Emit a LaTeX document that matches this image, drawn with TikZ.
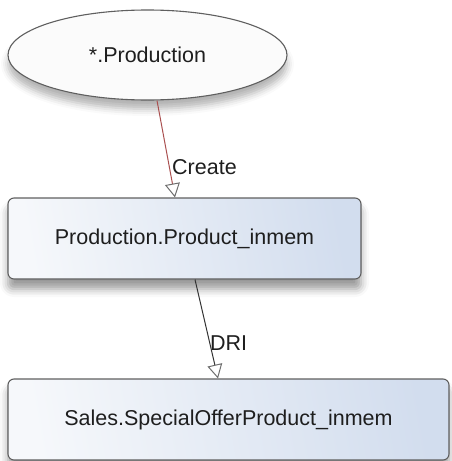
\documentclass[tikz,border=0pt]{standalone}
\usepackage{fontspec}
\setmainfont{Liberation Sans}
\usetikzlibrary{shapes.geometric,arrows.meta,calc,shadows.blur}
\definecolor{edgegray}{RGB}{95,95,95}
\definecolor{boxlight}{RGB}{246,248,251}
\definecolor{boxblue}{RGB}{210,221,238}
\definecolor{ellfill}{RGB}{251,251,251}
\definecolor{createred}{RGB}{170,80,80}
\definecolor{tipgray}{RGB}{110,110,110}
\definecolor{txt}{RGB}{30,30,30}
\tikzset{
  x=1pt, y=-1pt,
  lbl/.style={font=\fontsize{21.5}{26}\selectfont, text=txt},
  tablebox/.style={draw=edgegray, line width=1.1pt, rounded corners=6pt,
    left color=boxlight, right color=boxblue, shading angle=100,
    blur shadow={shadow xshift=0pt, shadow yshift=-10pt, shadow blur radius=8pt, shadow opacity=40},
    inner sep=0pt, lbl},
  schemaell/.style={ellipse, draw=edgegray, line width=1.1pt, fill=ellfill,
    blur shadow={shadow xshift=0pt, shadow yshift=-9pt, shadow blur radius=7pt, shadow opacity=30},
    inner sep=0pt, lbl},
  conn/.style={line width=1pt, -{Triangle[open, length=14pt, width=15pt, line width=1pt, color=tipgray]}},
  edgelbl/.style={lbl, anchor=west, inner sep=0pt}
}
\begin{document}
\begin{tikzpicture}
\useasboundingbox (0,0) rectangle (451,461);
\node[schemaell, minimum width=279pt, minimum height=90pt] (e) at (147.5,55) {*.Production};
\node[tablebox, minimum width=353pt, minimum height=81pt] (b1) at (184.5,238.5) {Production.Product\_inmem};
\node[tablebox, minimum width=441pt, minimum height=81pt] (b2) at (228.5,419.5) {Sales.SpecialOfferProduct\_inmem};
\draw[conn, draw=createred] ($(e.south)+(9.5,0)$) -- ($(b1.north)+(-9.5,0)$);
\draw[conn, draw=black!80] ($(b1.south)+(10.5,0)$) -- ($(b2.north)+(-10.5,0)$);
\node[edgelbl] (l1) at (172,167) {Create};
\node[edgelbl] (l2) at (210,343) {DRI};
\end{tikzpicture}
\end{document}
